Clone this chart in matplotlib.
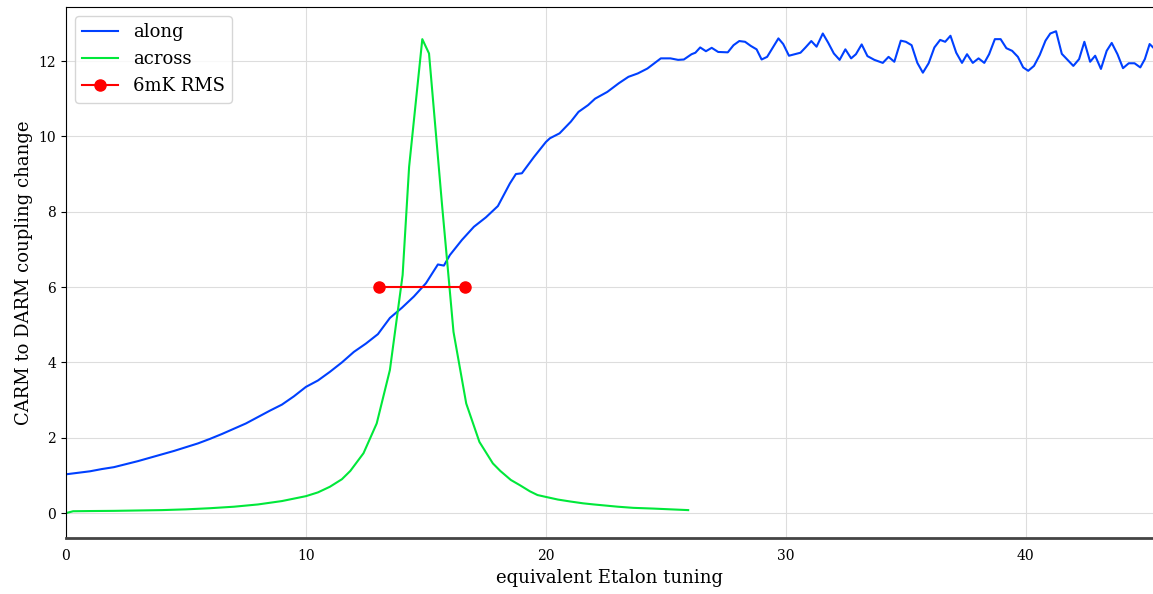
import matplotlib
matplotlib.use('Agg')
import matplotlib.pyplot as plt

plt.rcParams['font.family'] = ['DejaVu Serif']

# along curve
along_x = [0, 0.5, 1.0, 1.5, 2.0, 2.5, 3.0, 3.5, 4.0, 4.5, 5.0, 5.5, 6.0, 6.5, 7.0, 7.5,
           8.0, 8.5, 9.0, 9.5, 10.0, 10.5, 11.0, 11.5, 12.0, 12.5, 13.0, 13.5, 14.0, 14.5,
           15.0, 15.5, 15.75, 16.0, 16.25, 16.5, 17.0, 17.5, 18.0, 18.5, 18.75, 19.0, 19.5, 20.0,
           20.17, 20.57, 21.04, 21.36, 21.76, 22.05, 22.56, 23.04, 23.44, 23.83, 24.23, 24.79,
           25.19, 25.51, 25.75, 26.07, 26.23, 26.43, 26.67, 26.91, 27.18, 27.58, 27.82, 28.06,
           28.3, 28.54, 28.78, 28.99, 29.22, 29.69, 29.89, 30.13, 30.61, 30.82, 31.06, 31.28,
           31.54, 31.76, 32.0, 32.24, 32.48, 32.72, 32.92, 33.16, 33.40, 33.69, 34.04, 34.28,
           34.52, 34.79, 35.0, 35.24, 35.48, 35.71, 35.95, 36.19, 36.43, 36.64, 36.86, 37.1,
           37.34, 37.55, 37.79, 38.03, 38.27, 38.47, 38.71, 38.95, 39.19, 39.43, 39.67, 39.89,
           40.1, 40.34, 40.58, 40.82, 41.02, 41.26, 41.5, 41.74, 41.98, 42.22, 42.44, 42.68,
           42.89, 43.13, 43.37, 43.58, 43.82, 44.05, 44.29, 44.53, 44.77, 44.96, 45.16, 45.4]
along_y = [1.03, 1.07, 1.11, 1.17, 1.22, 1.30, 1.38, 1.47, 1.56, 1.65, 1.75, 1.85, 1.97, 2.10,
           2.24, 2.38, 2.55, 2.72, 2.88, 3.10, 3.35, 3.52, 3.75, 4.00, 4.28, 4.50, 4.75, 5.18,
           5.45, 5.75, 6.10, 6.60, 6.57, 6.85, 7.05, 7.25, 7.60, 7.85, 8.15, 8.75, 9.00, 9.02,
           9.45, 9.85,
           9.95, 10.08, 10.39, 10.65, 10.83, 11.00, 11.18, 11.41, 11.58, 11.67, 11.80, 12.07,
           12.07, 12.03, 12.04, 12.18, 12.22, 12.36, 12.26, 12.35, 12.24, 12.23, 12.42, 12.53,
           12.51, 12.40, 12.31, 12.04, 12.11, 12.60, 12.45, 12.14, 12.22, 12.36, 12.53, 12.38,
           12.73, 12.49, 12.20, 12.03, 12.31, 12.07, 12.18, 12.44, 12.13, 12.03, 11.95, 12.11,
           11.98, 12.54, 12.51, 12.42, 11.95, 11.69, 11.94, 12.36, 12.56, 12.51, 12.67, 12.22,
           11.95, 12.18, 11.95, 12.07, 11.95, 12.18, 12.58, 12.58, 12.34, 12.27, 12.11, 11.83,
           11.74, 11.87, 12.16, 12.54, 12.73, 12.79, 12.19, 12.03, 11.87, 12.05, 12.51, 11.98,
           12.14, 11.79, 12.27, 12.48, 12.18, 11.81, 11.94, 11.94, 11.83, 12.05, 12.45, 12.30]

# across curve
across_x = [0, 0.3, 1, 2, 3, 4, 5, 6, 7, 8, 9, 10, 10.5, 11, 11.5, 11.85, 12.4, 12.95, 13.5,
            14.03, 14.3, 14.85, 15.13, 15.4, 15.67, 15.94, 16.15, 16.68, 17.23, 17.79, 18.1,
            18.54, 18.92, 19.33, 19.65, 20.0, 20.5, 21.0, 21.55, 22.0, 22.5, 23.0, 23.64,
            24.5, 25.2, 25.93]
across_y = [0, 0.05, 0.055, 0.06, 0.07, 0.08, 0.10, 0.13, 0.17, 0.23, 0.32, 0.45, 0.55, 0.70,
            0.90, 1.12, 1.59, 2.38, 3.80, 6.32, 9.19, 12.58, 12.20, 10.20, 8.20, 6.30, 4.81,
            2.91, 1.89, 1.32, 1.12, 0.88, 0.74, 0.58, 0.48, 0.43, 0.36, 0.31, 0.26, 0.23,
            0.20, 0.17, 0.14, 0.12, 0.10, 0.08]

# 6mK RMS span
rms_x = [13.04, 16.63]
rms_y = [6, 6]

fig = plt.figure(figsize=(11.53, 5.94), dpi=100)
ax = fig.add_axes([0.0572, 0.0943, 0.9428, 0.8937])

ax.plot(along_x, along_y, color='#0040ff', lw=1.5, label='along')
ax.plot(across_x, across_y, color='#00e83a', lw=1.5, label='across')
ax.plot(rms_x, rms_y, color='red', lw=1.5, marker='o', markersize=8, label='6mK RMS')

ax.set_xlim(0, 45.3)
ax.set_ylim(-0.66, 13.43)
ax.set_xticks([0, 10, 20, 30, 40])
ax.set_yticks([0, 2, 4, 6, 8, 10, 12])
ax.grid(True, color='#dddddd', lw=0.8)
ax.set_axisbelow(True)

ax.spines['right'].set_visible(False)
ax.spines['bottom'].set_linewidth(2)
ax.spines['bottom'].set_color('#444444')
ax.tick_params(axis='x', length=0, pad=8, labelsize=10)
ax.tick_params(axis='y', labelsize=10)

ax.set_xlabel('equivalent Etalon tuning', fontsize=13)
ax.set_ylabel('CARM to DARM coupling change', fontsize=13)
ax.legend(loc='upper left', fontsize=13, framealpha=0.8)

fig.savefig('out.png', dpi=100)
